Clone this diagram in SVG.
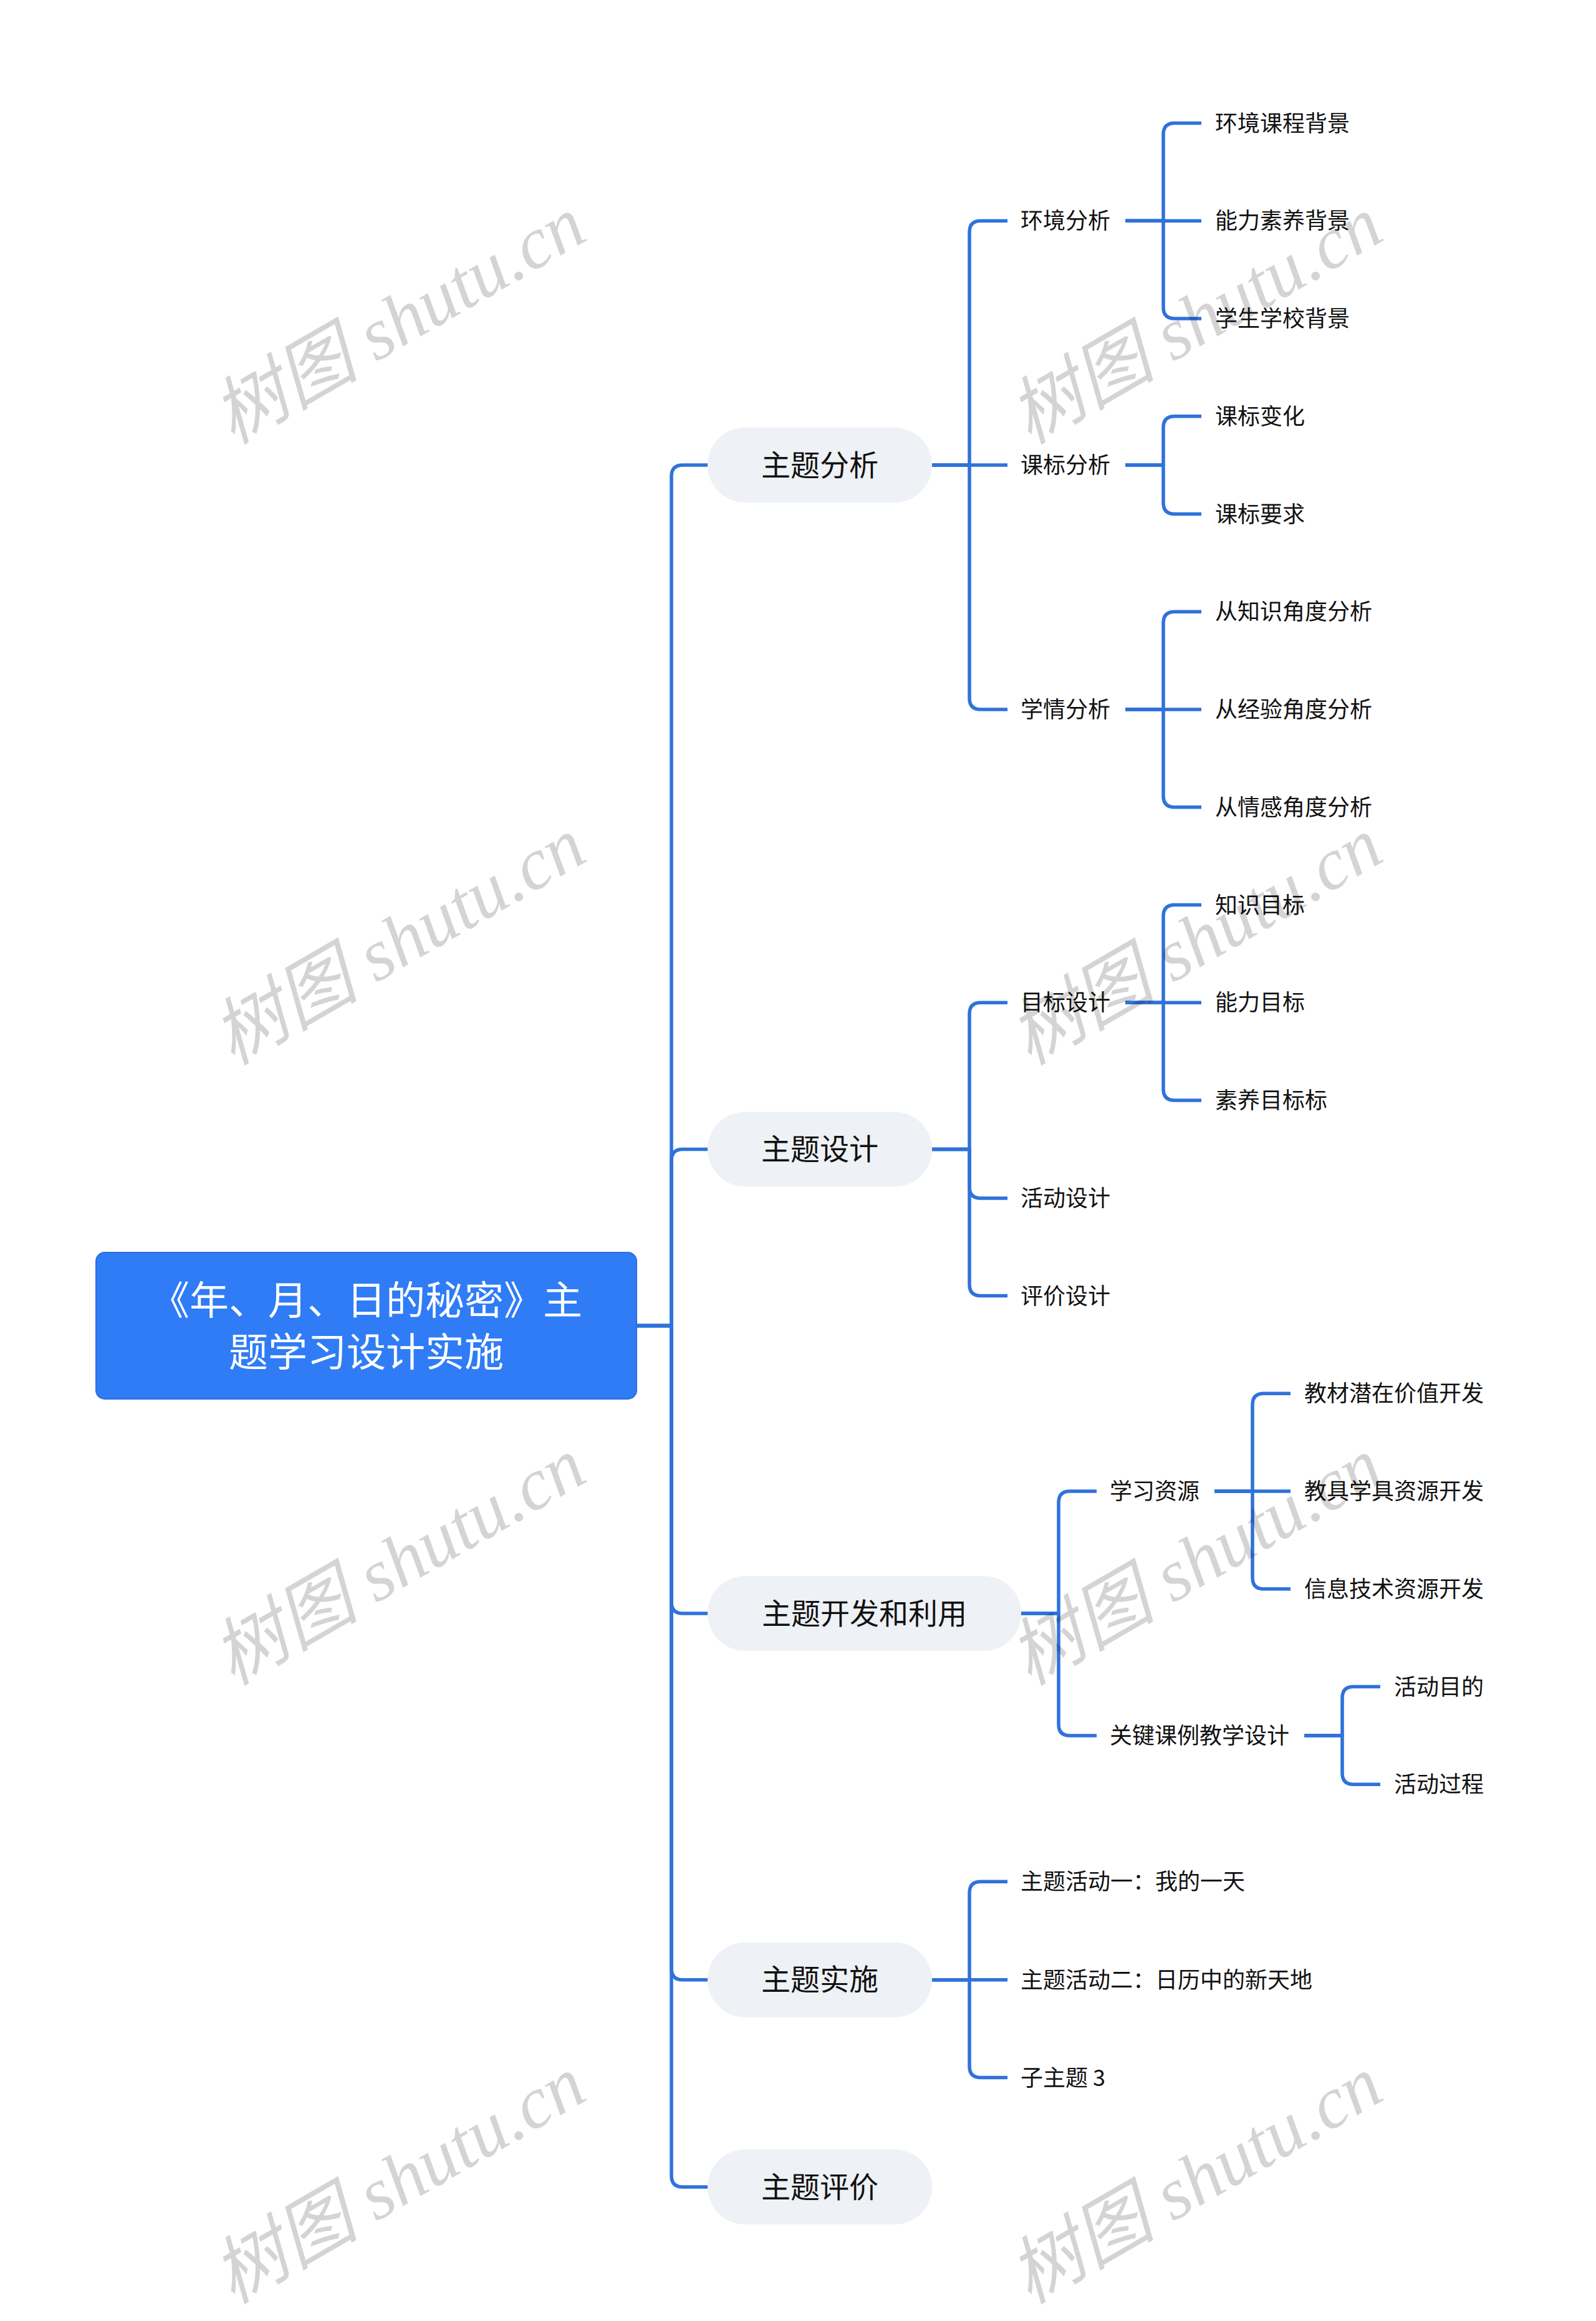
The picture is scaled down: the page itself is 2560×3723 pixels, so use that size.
<svg xmlns="http://www.w3.org/2000/svg" width="2560" height="3723" viewBox="0 0 2560 3723">
<style>
.bg{fill:#ffffff}
.ln{fill:none;stroke:#2f72da;stroke-width:5.5;stroke-linecap:butt;stroke-linejoin:round}
.root{fill:#2f7cf6;stroke:#2a6fdc;stroke-width:2}
.rt{font-family:"Noto Sans CJK SC","Noto Sans",sans-serif;font-size:63px;fill:#ffffff;text-anchor:middle;dominant-baseline:central}
.l1{fill:#eef1f5}
.t1{font-family:"Noto Sans CJK SC","Noto Sans",sans-serif;font-size:47px;fill:#111111;text-anchor:middle;dominant-baseline:central}
.t2{font-family:"Noto Sans CJK SC","Noto Sans",sans-serif;font-size:36px;fill:#111111;dominant-baseline:central}
.wm{font-family:"Liberation Serif","Noto Sans CJK SC",serif;font-style:italic;font-size:118px;fill:#000000;fill-opacity:0.17;text-anchor:middle;dominant-baseline:central}
</style>
<rect class="bg" x="0" y="0" width="2560" height="3723"/>

<g id="connectors">
  <path class="ln" d="M1022,2126.5 H1077 V764 Q1077,746 1095,746 H1135"/>
  <path class="ln" d="M1022,2126.5 H1077 V1861.4 Q1077,1843.4 1095,1843.4 H1135"/>
  <path class="ln" d="M1022,2126.5 H1077 V2570 Q1077,2588 1095,2588 H1135"/>
  <path class="ln" d="M1022,2126.5 H1077 V3157.75 Q1077,3175.75 1095,3175.75 H1135"/>
  <path class="ln" d="M1022,2126.5 H1077 V3490 Q1077,3508 1095,3508 H1135"/>

  <path class="ln" d="M1495,746 H1555 V372.25 Q1555,354.25 1573,354.25 H1616"/>
  <path class="ln" d="M1495,746 H1616"/>
  <path class="ln" d="M1495,746 H1555 V1120 Q1555,1138 1573,1138 H1616"/>
  <path class="ln" d="M1805,354.25 H1866 V215.5 Q1866,197.5 1884,197.5 H1927"/>
  <path class="ln" d="M1805,354.25 H1927"/>
  <path class="ln" d="M1805,354.25 H1866 V493 Q1866,511 1884,511 H1927"/>
  <path class="ln" d="M1805,746 H1866 V685.75 Q1866,667.75 1884,667.75 H1927"/>
  <path class="ln" d="M1805,746 H1866 V806.5 Q1866,824.5 1884,824.5 H1927"/>
  <path class="ln" d="M1805,1138 H1866 V999.25 Q1866,981.25 1884,981.25 H1927"/>
  <path class="ln" d="M1805,1138 H1927"/>
  <path class="ln" d="M1805,1138 H1866 V1276.75 Q1866,1294.75 1884,1294.75 H1927"/>

  <path class="ln" d="M1495,1843.4 H1555 V1626.25 Q1555,1608.25 1573,1608.25 H1616"/>
  <path class="ln" d="M1495,1843.4 H1555 V1904 Q1555,1922 1573,1922 H1616"/>
  <path class="ln" d="M1495,1843.4 H1555 V2060.5 Q1555,2078.5 1573,2078.5 H1616"/>
  <path class="ln" d="M1805,1608.25 H1866 V1469.5 Q1866,1451.5 1884,1451.5 H1927"/>
  <path class="ln" d="M1805,1608.25 H1927"/>
  <path class="ln" d="M1805,1608.25 H1866 V1747 Q1866,1765 1884,1765 H1927"/>

  <path class="ln" d="M1638,2588 H1698 V2410 Q1698,2392 1716,2392 H1759"/>
  <path class="ln" d="M1638,2588 H1698 V2766.1 Q1698,2784.1 1716,2784.1 H1759"/>
  <path class="ln" d="M1948,2392 H2009 V2253.25 Q2009,2235.25 2027,2235.25 H2070"/>
  <path class="ln" d="M1948,2392 H2070"/>
  <path class="ln" d="M1948,2392 H2009 V2530.75 Q2009,2548.75 2027,2548.75 H2070"/>
  <path class="ln" d="M2092,2784.1 H2153 V2723.5 Q2153,2705.5 2171,2705.5 H2214"/>
  <path class="ln" d="M2092,2784.1 H2153 V2844.25 Q2153,2862.25 2171,2862.25 H2214"/>

  <path class="ln" d="M1495,3175.75 H1555 V3036.25 Q1555,3018.25 1573,3018.25 H1616"/>
  <path class="ln" d="M1495,3175.75 H1616"/>
  <path class="ln" d="M1495,3175.75 H1555 V3314.5 Q1555,3332.5 1573,3332.5 H1616"/>
</g>

<g id="root">
  <rect class="root" x="154" y="2009" width="867" height="235" rx="14"/>
  <text class="rt" x="587.5" y="2080">《年、月、日的秘密》主</text>
  <text class="rt" x="587.5" y="2163">题学习设计实施</text>
</g>

<g id="n-fenxi"><rect class="l1" x="1135" y="686" width="360" height="120" rx="60"/><text class="t1" x="1315" y="742">主题分析</text></g>
<g id="n-sheji"><rect class="l1" x="1135" y="1783.4" width="360" height="120" rx="60"/><text class="t1" x="1315" y="1839.4">主题设计</text></g>
<g id="n-kaifa"><rect class="l1" x="1135" y="2528" width="503" height="120" rx="60"/><text class="t1" x="1386.5" y="2584">主题开发和利用</text></g>
<g id="n-shishi"><rect class="l1" x="1135" y="3115.75" width="360" height="120" rx="60"/><text class="t1" x="1315" y="3171.75">主题实施</text></g>
<g id="n-pingjia"><rect class="l1" x="1135" y="3448" width="360" height="120" rx="60"/><text class="t1" x="1315" y="3504">主题评价</text></g>

<g id="n-huanjing"><text class="t2" x="1637" y="351.25">环境分析</text></g>
<g id="n-kebiao"><text class="t2" x="1637" y="743">课标分析</text></g>
<g id="n-xueqing"><text class="t2" x="1637" y="1135">学情分析</text></g>
<g id="n-mubiao"><text class="t2" x="1637" y="1605.25">目标设计</text></g>
<g id="n-huodong"><text class="t2" x="1637" y="1919">活动设计</text></g>
<g id="n-pingjiasj"><text class="t2" x="1637" y="2075.5">评价设计</text></g>
<g id="n-ziyuan"><text class="t2" x="1780" y="2389">学习资源</text></g>
<g id="n-guanjian"><text class="t2" x="1780" y="2781.1">关键课例教学设计</text></g>
<g id="n-hd1"><text class="t2" x="1637" y="3015.25">主题活动一：我的一天</text></g>
<g id="n-hd2"><text class="t2" x="1637" y="3172.75">主题活动二：日历中的新天地</text></g>
<g id="n-zi3"><text class="t2" x="1637" y="3329.5">子主题 3</text></g>

<g id="n-l1"><text class="t2" x="1949" y="194.5">环境课程背景</text></g>
<g id="n-l2"><text class="t2" x="1949" y="351.25">能力素养背景</text></g>
<g id="n-l3"><text class="t2" x="1949" y="508">学生学校背景</text></g>
<g id="n-l4"><text class="t2" x="1949" y="664.75">课标变化</text></g>
<g id="n-l5"><text class="t2" x="1949" y="821.5">课标要求</text></g>
<g id="n-l6"><text class="t2" x="1949" y="978.25">从知识角度分析</text></g>
<g id="n-l7"><text class="t2" x="1949" y="1135">从经验角度分析</text></g>
<g id="n-l8"><text class="t2" x="1949" y="1291.75">从情感角度分析</text></g>
<g id="n-l9"><text class="t2" x="1949" y="1448.5">知识目标</text></g>
<g id="n-l10"><text class="t2" x="1949" y="1605.25">能力目标</text></g>
<g id="n-l11"><text class="t2" x="1949" y="1762">素养目标标</text></g>
<g id="n-l12"><text class="t2" x="2092" y="2232.25">教材潜在价值开发</text></g>
<g id="n-l13"><text class="t2" x="2092" y="2389">教具学具资源开发</text></g>
<g id="n-l14"><text class="t2" x="2092" y="2545.75">信息技术资源开发</text></g>
<g id="n-l15"><text class="t2" x="2236" y="2702.5">活动目的</text></g>
<g id="n-l16"><text class="t2" x="2236" y="2859.25">活动过程</text></g>

<g id="watermarks">
  <text class="wm" transform="rotate(-30 640 514)" x="640" y="514">树图 shutu.cn</text>
  <text class="wm" transform="rotate(-30 1918 514)" x="1918" y="514">树图 shutu.cn</text>
  <text class="wm" transform="rotate(-30 640 1510)" x="640" y="1510">树图 shutu.cn</text>
  <text class="wm" transform="rotate(-30 1918 1510)" x="1918" y="1510">树图 shutu.cn</text>
  <text class="wm" transform="rotate(-30 640 2505)" x="640" y="2505">树图 shutu.cn</text>
  <text class="wm" transform="rotate(-30 1918 2505)" x="1918" y="2505">树图 shutu.cn</text>
  <text class="wm" transform="rotate(-30 640 3497)" x="640" y="3497">树图 shutu.cn</text>
  <text class="wm" transform="rotate(-30 1918 3497)" x="1918" y="3497">树图 shutu.cn</text>
</g>
</svg>
